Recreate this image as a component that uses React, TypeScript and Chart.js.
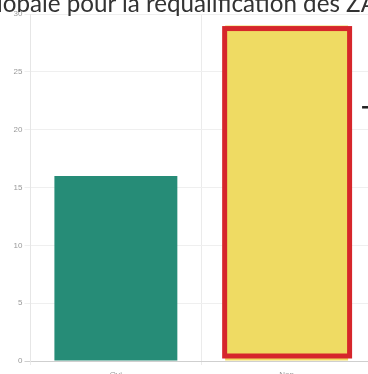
import React, { useEffect, useRef } from "react";
import { Chart, registerables } from "chart.js";

Chart.register(...registerables);

const titleText = "Évaluation globale pour la requalification des ZAE";
const categories = ["Oui", "Non"];
const responses = [16, 29];
const barColors = ["#268C77", "#EFDB63"];
const yMax = 30;
const yStep = 5;
const highlightIndex = 1;
const annotationValue = 22;

const highlightPlugin = {
  id: "highlight",
  afterDatasetsDraw(chart: any) {
    const meta = chart.getDatasetMeta(0);
    const el = meta.data[highlightIndex];
    if (!el) return;
    const { x, y, base, width } = el.getProps(["x", "y", "base", "width"], true);
    const left = x - width / 2 - 3;
    const right = x + width / 2 + 4;
    const top = y + 0.5;
    const bottom = base - 2;
    const lw = 5;
    const ctx = chart.ctx;
    ctx.save();
    ctx.strokeStyle = "#D6262B";
    ctx.lineWidth = lw;
    ctx.strokeRect(left + lw / 2, top + lw / 2, right - left - lw, bottom - top - lw);
    const ay = chart.scales.y.getPixelForValue(annotationValue);
    ctx.fillStyle = "#222";
    ctx.fillRect(right + 10, ay - 0.5, 20, 2.5);
    ctx.restore();
  },
};

export default function App() {
  const ref = useRef<HTMLCanvasElement | null>(null);
  useEffect(() => {
    if (!ref.current) return;
    const chart = new Chart(ref.current, {
      type: "bar",
      data: {
        labels: categories,
        datasets: [
          {
            data: responses,
            backgroundColor: barColors,
            borderWidth: 0,
          },
        ],
      },
      options: {
        animation: false,
        responsive: false,
        maintainAspectRatio: false,
        layout: { padding: { top: 14, left: 0, right: 0, bottom: 0 } },
        plugins: {
          legend: { display: false },
          tooltip: { enabled: false },
          title: { display: false },
        },
        scales: {
          x: {
            grid: { color: "#ebebeb", tickLength: 4 },
            border: { color: "#cfcfcf" },
            ticks: {
              color: "#999",
              font: { family: "'Liberation Sans', Arial, sans-serif", size: 8 },
              padding: 5,
            },
            afterFit(scale: any) {
              scale.height = 21;
            },
          },
          y: {
            min: 0,
            max: yMax,
            grid: {
              color: (c: any) => (c.tick && c.tick.value === 0 ? "#cfcfcf" : "#efefef"),
              tickLength: 6,
            },
            border: { color: "#e6e6e6" },
            ticks: {
              stepSize: yStep,
              color: "#999",
              font: { family: "'Liberation Sans', Arial, sans-serif", size: 8 },
              padding: 2,
            },
            afterFit(scale: any) {
              scale.width = 30.5;
            },
          },
        },
      },
      plugins: [highlightPlugin],
    });
    return () => chart.destroy();
  }, []);

  return (
    <div
      style={{
        position: "fixed",
        left: 0,
        top: 0,
        width: 368,
        height: 374,
        overflow: "hidden",
        background: "#fff",
      }}
    >
      <canvas
        ref={ref}
        width={372}
        height={382}
        style={{ position: "absolute", left: 0, top: 0, width: 372, height: 382 }}
      />
      <div
        style={{
          position: "absolute",
          right: -23,
          top: -8,
          width: 700,
          whiteSpace: "nowrap",
          textAlign: "right",
          fontFamily: "Lato, sans-serif",
          fontSize: 24.2,
          lineHeight: "22px",
          color: "#333",
        }}
      >
        {titleText}
      </div>
    </div>
  );
}
